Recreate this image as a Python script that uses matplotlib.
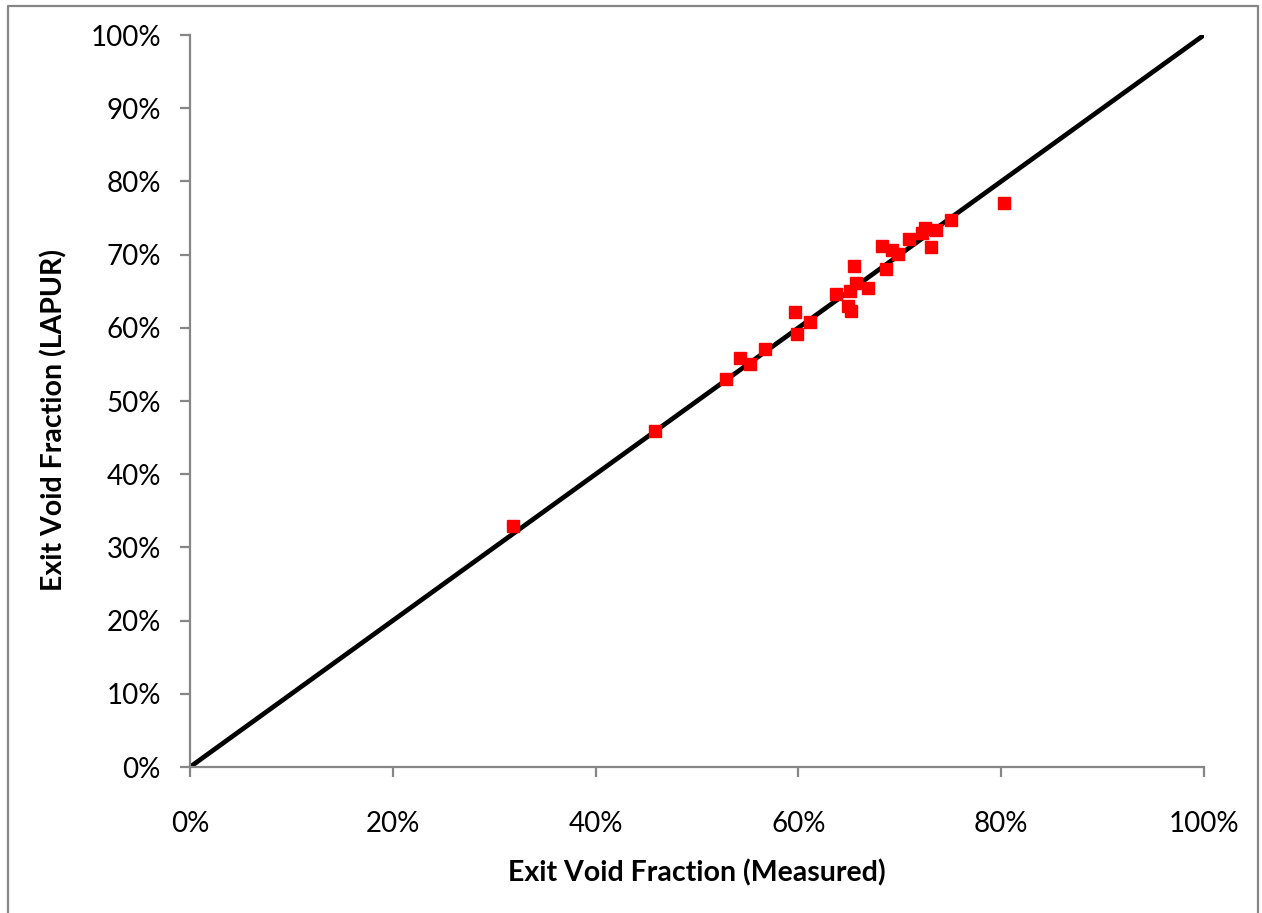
import matplotlib.pyplot as plt
from matplotlib.lines import Line2D
from matplotlib.ticker import PercentFormatter

# measured vs LAPUR exit void fraction (%)
measured = [31.9, 45.9, 52.9, 54.2, 55.2, 56.7, 59.7, 59.9, 61.1, 63.7,
            65.5, 64.9, 65.2, 65.1, 65.7, 66.9, 68.6, 68.2, 69.2, 69.8,
            70.9, 72.2, 72.5, 73.1, 73.6, 75.0, 80.3]
lapur = [32.9, 45.9, 53.0, 55.9, 55.0, 57.1, 62.1, 59.2, 60.8, 64.6,
         68.4, 63.0, 62.3, 65.0, 66.1, 65.5, 68.0, 71.2, 70.6, 70.1,
         72.1, 72.9, 73.6, 71.1, 73.3, 74.7, 77.0]
ideal = [0, 100]
ticks = list(range(0, 101, 20))
yticks = list(range(0, 101, 10))

plt.rcParams['font.family'] = ['Lato', 'DejaVu Sans']
gray = '#868686'

fig = plt.figure(figsize=(12.62, 9.13), dpi=100)
ax = fig.add_axes([190 / 1262, 1 - 767 / 913, (1204 - 190) / 1262, (767 - 35) / 913])

ax.plot(ideal, ideal, color='black', lw=3.4, solid_capstyle='butt', zorder=2)
ax.plot(measured, lapur, 's', color='#ff0000', ms=8.7, mec='#ff0000', zorder=3)

ax.set_xlim(0, 100)
ax.set_ylim(0, 100)
ax.set_xticks(ticks)
ax.set_yticks(yticks)
ax.xaxis.set_major_formatter(PercentFormatter(decimals=0))
ax.yaxis.set_major_formatter(PercentFormatter(decimals=0))

for s in ['top', 'right']:
    ax.spines[s].set_visible(False)
for s in ['left', 'bottom']:
    ax.spines[s].set_color(gray)
    ax.spines[s].set_linewidth(1.6)
ax.tick_params(direction='out', length=7, width=1.6, color=gray,
               labelsize=20, labelcolor='black')
ax.tick_params(axis='y', pad=14)
ax.tick_params(axis='x', pad=25)

ax.set_xlabel('Exit Void Fraction (Measured)', fontsize=20.5, fontweight='bold', labelpad=16)
ax.set_ylabel('Exit Void Fraction (LAPUR)', fontsize=20.5, fontweight='bold')
ax.yaxis.set_label_coords(-0.121, 0.474)

# chart area border
fx0, fx1 = 8 / 1262, 1258 / 1262
fy0, fy1 = 0, 1 - 6 / 913
fig.add_artist(Line2D([fx0, fx0, fx1, fx1], [fy0, fy1, fy1, fy0],
                      color=gray, lw=1.6, transform=fig.transFigure))

fig.savefig('out.png', dpi=100)
